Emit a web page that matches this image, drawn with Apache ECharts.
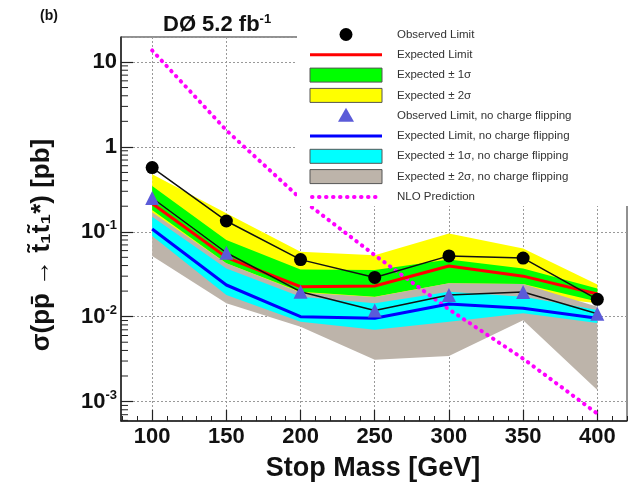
<!DOCTYPE html>
<html>
<head>
<meta charset="utf-8">
<script src="https://cdn.jsdelivr.net/npm/echarts@6/dist/echarts.min.js"></script>
<style>
  html, body { margin: 0; padding: 0; background: #fff; }
  #chart { width: 636px; height: 485px; }
</style>
</head>
<body>
<div id="chart"></div>
<script>
// Stop mass points [GeV]
const masses = [100, 150, 200, 250, 300, 350, 400];

// Cross-section limits [pb]
const observed   = [0.57, 0.134, 0.047, 0.029, 0.052, 0.049, 0.016];
const expected   = [0.215, 0.050, 0.0225, 0.023, 0.0395, 0.030, 0.0185];
const exp1sLow   = [0.18, 0.0425, 0.0197, 0.0172, 0.0247, 0.0243, 0.0151];
const exp1sHigh  = [0.345, 0.080, 0.036, 0.0354, 0.047, 0.037, 0.0215];
const exp2sLow   = [0.12, 0.032, 0.015, 0.013, 0.018, 0.018, 0.0144];
const exp2sHigh  = [0.477, 0.165, 0.058, 0.053, 0.0957, 0.0637, 0.024];

// Limits without charge flipping [pb]
const observedNoCF  = [0.25, 0.0566, 0.0197, 0.0118, 0.018, 0.0195, 0.0108];
const expectedNoCF  = [0.108, 0.0236, 0.0100, 0.0096, 0.0141, 0.0126, 0.0096];
const noCF1sLow     = [0.089, 0.018, 0.0087, 0.0070, 0.0087, 0.011, 0.0084];
const noCF1sHigh    = [0.150, 0.037, 0.0172, 0.0144, 0.0197, 0.0172, 0.012];
const noCF2sLow     = [0.052, 0.0144, 0.0076, 0.0031, 0.00345, 0.0091, 0.00137];
const noCF2sHigh    = [0.17, 0.0425, 0.0192, 0.017, 0.0247, 0.0243, 0.0131];

// NLO theory prediction [pb]
const nloPrediction = [13.7, 1.57, 0.246, 0.053, 0.0122, 0.0032, 0.00072];

// Axis ticks
const xMajorTicks = [100, 150, 200, 250, 300, 350, 400];
const xMinorTicks = [80, 90, 110, 120, 130, 140, 160, 170, 180, 190, 210, 220, 230, 240,
                     260, 270, 280, 290, 310, 320, 330, 340, 360, 370, 380, 390, 410, 420];
const yMinorTicks = [0.0006, 0.0007, 0.0008, 0.0009,
                     0.002, 0.003, 0.004, 0.005, 0.006, 0.007, 0.008, 0.009,
                     0.02, 0.03, 0.04, 0.05, 0.06, 0.07, 0.08, 0.09,
                     0.2, 0.3, 0.4, 0.5, 0.6, 0.7, 0.8, 0.9,
                     2, 3, 4, 5, 6, 7, 8, 9];

// Text
const titleMain = 'DØ 5.2 fb';
const titleSup = '-1';
const panelTag = '(b)';
const xTitle = 'Stop Mass [GeV]';
const yTitle = 'σ(pp̄ → t̃₁t̃₁*) [pb]';
const legendLabels = [
  'Observed Limit',
  'Expected Limit',
  'Expected ± 1σ',
  'Expected ± 2σ',
  'Observed Limit, no charge flipping',
  'Expected Limit, no charge flipping',
  'Expected ± 1σ, no charge flipping',
  'Expected ± 2σ, no charge flipping',
  'NLO Prediction'
];

const X_MIN = 79, X_MAX = 420;
const Y_MIN = 5.9e-4, Y_MAX = 19.7;

const COL = {
  yellow: '#ffff00', green: '#00ff00', cyan: '#00ffff', grey: '#bdb4aa',
  red: '#ff0000', blue: '#0000ff', tri: '#5b5bd8', magenta: '#ff00ff'
};
const FONT = '"Liberation Sans", Arial, sans-serif';

function band(name, lo, hi, color) {
  return {
    type: 'custom', name: name, silent: true, clip: true,
    data: masses.map((m, i) => [m, lo[i], hi[i]]),
    encode: { x: 0, y: [1, 2] },
    renderItem: function (params, api) {
      if (params.dataIndex !== 0) return null;
      const upper = masses.map((m, i) => api.coord([m, hi[i]]));
      const lower = masses.map((m, i) => api.coord([m, lo[i]])).reverse();
      return { type: 'polygon', shape: { points: upper.concat(lower) }, style: { fill: color } };
    }
  };
}

function curve(name, values, color, width, extra) {
  return Object.assign({
    type: 'line', name: name, silent: true,
    data: masses.map((m, i) => [m, values[i]]),
    symbol: 'none',
    lineStyle: { color: color, width: width },
    animation: false
  }, extra || {});
}

const chart = echarts.init(document.getElementById('chart'), null, { renderer: 'canvas' });

// legend rows
const LX = 310, LW = 72, LTX = 397, LY0 = 34.5, LDY = 20.3;
const legendEls = [{
  type: 'rect', z: 100, shape: { x: 297, y: 20, width: 339, height: 186 },
  style: { fill: '#fff' }
}];
legendLabels.forEach((txt, i) => {
  const y = LY0 + i * LDY;
  const cx = LX + LW / 2;
  let sym;
  switch (i) {
    case 0: sym = { type: 'circle', shape: { cx: cx, cy: y, r: 6.5 }, style: { fill: '#000' } }; break;
    case 1: sym = { type: 'line', shape: { x1: LX, y1: y, x2: LX + LW, y2: y }, style: { stroke: COL.red, lineWidth: 3 } }; break;
    case 4: sym = { type: 'polygon', shape: { points: [[cx, y - 8], [cx - 8, y + 6], [cx + 8, y + 6]] }, style: { fill: COL.tri } }; break;
    case 5: sym = { type: 'line', shape: { x1: LX, y1: y, x2: LX + LW, y2: y }, style: { stroke: COL.blue, lineWidth: 3 } }; break;
    case 8: sym = { type: 'line', shape: { x1: LX + 2, y1: y, x2: LX + LW, y2: y }, style: { stroke: COL.magenta, lineWidth: 4, lineDash: [0.5, 6.5], lineCap: 'round' } }; break;
    default: {
      const fill = { 2: COL.green, 3: COL.yellow, 6: COL.cyan, 7: COL.grey }[i];
      sym = { type: 'rect', shape: { x: LX, y: y - 7, width: LW, height: 14 }, style: { fill: fill, stroke: '#555', lineWidth: 1 } };
    }
  }
  sym.z = 101;
  legendEls.push(sym);
  legendEls.push({
    type: 'text', z: 101, x: LTX, y: y,
    style: { text: txt, font: '11.5px ' + FONT, fill: '#333', verticalAlign: 'middle', textAlign: 'left' }
  });
});

const option = {
  animation: false,
  backgroundColor: '#fff',
  textStyle: { fontFamily: FONT },
  grid: { left: 121, top: 37, right: 9, bottom: 64, show: true, borderColor: '#222', borderWidth: 1, backgroundColor: '#fff' },
  xAxis: [{
    type: 'value', min: X_MIN, max: X_MAX, position: 'bottom',
    axisLine: { show: true, onZero: false, lineStyle: { color: '#222', width: 1.5 } },
    axisTick: { show: true, inside: true, length: 11, customValues: xMajorTicks, lineStyle: { color: '#222', width: 1.2 } },
    axisLabel: { customValues: xMajorTicks, fontSize: 22, fontWeight: 'bold', color: '#111', margin: 5, fontFamily: FONT },
    splitLine: { show: true, lineStyle: { type: [2, 2], color: '#999', width: 1 } }
  }, {
    type: 'value', min: X_MIN, max: X_MAX, position: 'bottom',
    axisLine: { show: false },
    axisTick: { show: true, inside: true, length: 5, customValues: xMinorTicks, lineStyle: { color: '#222', width: 1 } },
    axisLabel: { show: false },
    splitLine: { show: false }
  }],
  yAxis: [{
    type: 'log', logBase: 10, min: Y_MIN, max: Y_MAX,
    axisLine: { show: true, lineStyle: { color: '#222', width: 1.5 } },
    axisTick: { show: true, inside: true, length: 12, lineStyle: { color: '#222', width: 1.2 } },
    axisLabel: {
      margin: 4, showMinLabel: false, showMaxLabel: false,
      formatter: function (v) {
        const l = Math.log10(v), e = Math.round(l);
        if (Math.abs(l - e) > 1e-6) return '';
        if (e === 0) return '{b|1}';
        if (e === 1) return '{b|10}';
        return '{b|10}{e|' + e + '}';
      },
      rich: {
        b: { fontSize: 22, fontWeight: 'bold', color: '#111', fontFamily: FONT },
        e: { fontSize: 13, fontWeight: 'bold', color: '#111', fontFamily: FONT, padding: [0, 0, 12, 0] }
      }
    },
    splitLine: { show: true, lineStyle: { type: [2, 2], color: '#999', width: 1 } }
  }],
  series: [
    band('Expected ± 2σ', exp2sLow, exp2sHigh, COL.yellow),
    band('Expected ± 1σ', exp1sLow, exp1sHigh, COL.green),
    band('Expected ± 2σ, no charge flipping', noCF2sLow, noCF2sHigh, COL.grey),
    band('Expected ± 1σ, no charge flipping', noCF1sLow, noCF1sHigh, COL.cyan),
    curve('NLO Prediction', nloPrediction, COL.magenta, 4, {
      lineStyle: { color: COL.magenta, width: 4, type: [0.5, 6.5], cap: 'round' }
    }),
    curve('Expected Limit', expected, COL.red, 3),
    curve('Expected Limit, no charge flipping', expectedNoCF, COL.blue, 3),
    curve('Observed Limit, no charge flipping', observedNoCF, '#111', 1.5, {
      symbol: 'triangle', symbolSize: 14, itemStyle: { color: COL.tri }
    }),
    curve('Observed Limit', observed, '#111', 1.5, {
      symbol: 'circle', symbolSize: 13, itemStyle: { color: '#000' }
    }),
    {
      // minor ticks on the logarithmic axis
      type: 'custom', name: 'yMinorTicks', silent: true, clip: true,
      data: yMinorTicks.map(v => [X_MIN, v]),
      renderItem: function (params, api) {
        const p = api.coord([X_MIN, api.value(1)]);
        return { type: 'line', shape: { x1: p[0], y1: p[1], x2: p[0] + 7, y2: p[1] }, style: { stroke: '#222', lineWidth: 1 } };
      }
    }
  ],
  graphic: [
    { type: 'text', z: 100, x: 40, y: 16, style: { text: panelTag, font: 'bold 14px ' + FONT, fill: '#111', verticalAlign: 'middle' } },
    {
      type: 'text', z: 100, x: 163, y: 25,
      style: {
        text: '{a|' + titleMain + '}{s|' + titleSup + '}', verticalAlign: 'middle',
        rich: {
          a: { fontSize: 22, fontWeight: 'bold', fontFamily: FONT, fill: '#111' },
          s: { fontSize: 13, fontWeight: 'bold', fontFamily: FONT, fill: '#111', padding: [0, 0, 12, 0] }
        }
      }
    },
    { type: 'text', z: 100, x: 373, y: 469, style: { text: xTitle, font: 'bold 27px ' + FONT, fill: '#111', textAlign: 'center', verticalAlign: 'middle' } },
    { type: 'text', z: 100, x: 42, y: 245, rotation: Math.PI / 2, style: { text: yTitle, font: 'bold 26px ' + FONT, fill: '#111', textAlign: 'center', verticalAlign: 'middle' } }
  ].concat(legendEls)
};

chart.setOption(option);
</script>
</body>
</html>
